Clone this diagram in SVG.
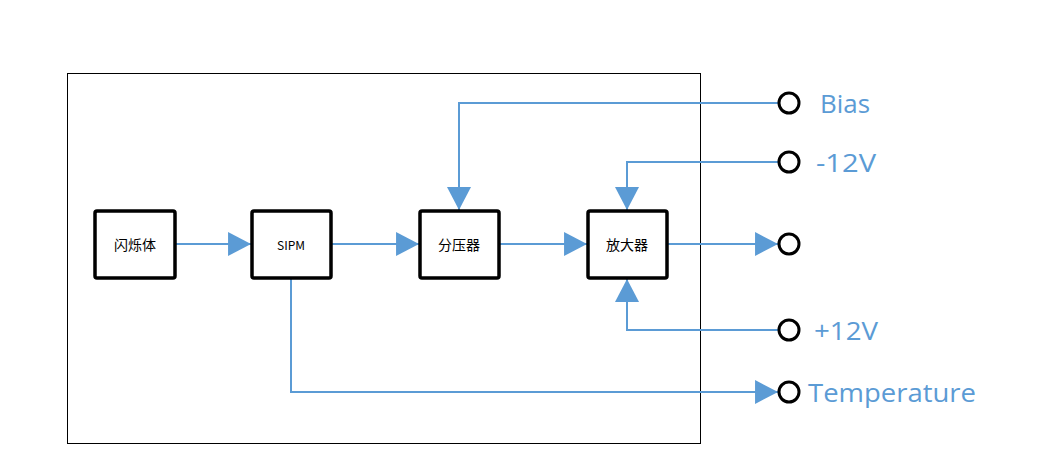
<svg xmlns="http://www.w3.org/2000/svg" width="1044" height="475" viewBox="0 0 1044 475">
<style>
.box{fill:#fff;stroke:#000;stroke-width:3.5}
.lbl{font-family:"Noto Sans CJK SC","Liberation Sans",sans-serif;font-size:14px;fill:#000;text-anchor:middle;dominant-baseline:central}
.con{fill:none;stroke:#5B9BD5;stroke-width:2}
.term{fill:#fff;stroke:#000;stroke-width:3}
.tl{font-family:"Open Sans","Liberation Sans",sans-serif;font-size:26px;fill:#5B9BD5;dominant-baseline:central}
</style>
<defs>
<marker id="ah" markerUnits="userSpaceOnUse" markerWidth="24" markerHeight="24" viewBox="0 0 22 23" refX="22" refY="11.5" orient="auto">
<path d="M0,0 L22,11.5 L0,23 Z" fill="#5B9BD5"/>
</marker>
</defs>
<rect x="67.5" y="73.5" width="633" height="370" fill="none" stroke="#000" stroke-width="1"/>
<g id="connectors">
<line class="con" x1="176" y1="244" x2="251" y2="244" marker-end="url(#ah)"/>
<line class="con" x1="331" y1="244" x2="419" y2="244" marker-end="url(#ah)"/>
<line class="con" x1="500" y1="244" x2="587" y2="244" marker-end="url(#ah)"/>
<line class="con" x1="668" y1="244" x2="778" y2="244" marker-end="url(#ah)"/>
<polyline class="con" points="779,103 459,103 459,210" marker-end="url(#ah)"/>
<polyline class="con" points="779,162 627,162 627,210" marker-end="url(#ah)"/>
<polyline class="con" points="779,330 627,330 627,279" marker-end="url(#ah)"/>
<polyline class="con" points="291,279 291,392 778,392" marker-end="url(#ah)"/>
</g>
<g id="n1"><rect class="box" x="95" y="211" width="80" height="67" rx="2"/><text class="lbl" x="135" y="244">闪烁体</text></g>
<g id="n2"><rect class="box" x="252" y="211" width="79" height="67" rx="2"/><text class="lbl" x="291" y="244" style="font-size:12px">SIPM</text></g>
<g id="n3"><rect class="box" x="420" y="211" width="79" height="67" rx="2"/><text class="lbl" x="459" y="244">分压器</text></g>
<g id="n4"><rect class="box" x="588" y="211" width="79" height="67" rx="2"/><text class="lbl" x="627" y="244">放大器</text></g>
<g id="t-bias"><circle class="term" cx="789" cy="103" r="10"/><text class="tl" x="820" y="103" textLength="50" lengthAdjust="spacingAndGlyphs">Bias</text></g>
<g id="t-m12"><circle class="term" cx="789" cy="162" r="10"/><text class="tl" x="816" y="162" textLength="60" lengthAdjust="spacingAndGlyphs">-12V</text></g>
<g id="t-out"><circle class="term" cx="789" cy="244" r="10"/></g>
<g id="t-p12"><circle class="term" cx="789" cy="330" r="10"/><text class="tl" x="814" y="330" textLength="64" lengthAdjust="spacingAndGlyphs">+12V</text></g>
<g id="t-temp"><circle class="term" cx="789" cy="392" r="10"/><text class="tl" x="808" y="392" textLength="168" lengthAdjust="spacingAndGlyphs">Temperature</text></g>
</svg>
